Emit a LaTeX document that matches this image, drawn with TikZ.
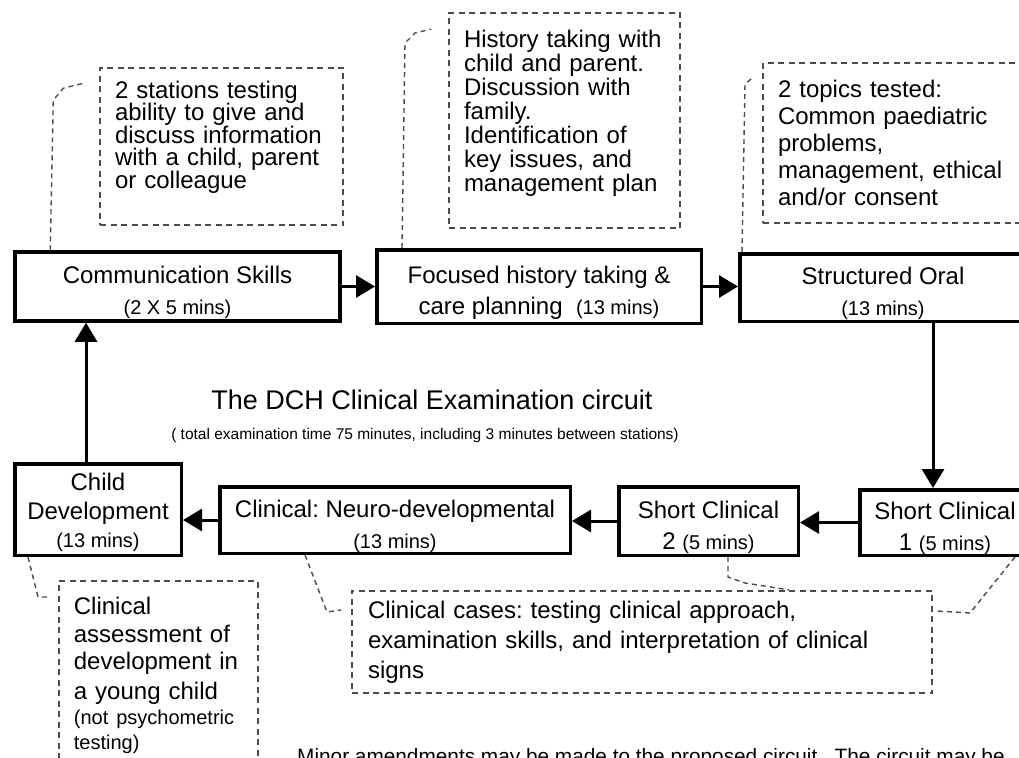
\documentclass[tikz,border=0pt]{standalone}
\usepackage{fontspec}
\setmainfont{Liberation Sans}
\usetikzlibrary{arrows.meta,calc}
\tikzset{
	station/.style={draw, line width=3.5pt, align=center, inner sep=0pt,
		font=\fontsize{24}{31}\selectfont},
	note/.style={draw=black!70, line width=1.8pt, dash pattern=on 6pt off 4.5pt,
		align=left, inner xsep=15pt, inner ysep=10pt},
	callout/.style={draw=black!70, line width=1.4pt, dash pattern=on 5pt off 4pt},
	flow/.style={line width=3pt, -{Triangle[length=19pt,width=22pt]}},
}
\newcommand{\durtxt}[1]{{\fontsize{20}{24}\selectfont #1}}
\newcommand{\lowtxt}{\rule{0pt}{30pt}}
\frenchspacing

\begin{document}
\begin{tikzpicture}[x=1pt, y=-1pt]
\useasboundingbox (0,0) rectangle (1019,757);
\clip (0,0) rectangle (1019,757);
% stations of the circuit
\node[station, minimum width=325pt, minimum height=69pt] (comm) at (177.5,286.5) {\lowtxt Communication Skills\\\durtxt{(2 X 5 mins)}};
\node[station, minimum width=324.5pt, minimum height=73.5pt] (focus) at (539,286.5) {\lowtxt Focused history taking \&\\care planning \ \durtxt{(13 mins)}};
\node[station, minimum width=286.5pt, minimum height=67.5pt] (oral) at (883,287.5) {\lowtxt Structured Oral\\\durtxt{(13 mins)}};
\node[station, minimum width=170.5pt, minimum height=65.5pt] (sc1) at (945,522.5) {\lowtxt Short Clinical\\1 \durtxt{(5 mins)}};
\node[station, minimum width=179.5pt, minimum height=68.5pt] (sc2) at (708.5,521) {\lowtxt Short Clinical\\2 \durtxt{(5 mins)}};
\node[station, minimum width=350.5pt, minimum height=66.5pt] (neuro) at (395,520) {\lowtxt Clinical: Neuro-developmental\\\durtxt{(13 mins)}};
\node[station, minimum width=166.5pt, minimum height=91.5pt, font=\fontsize{24}{28.5}\selectfont] (child) at (98,509.5) {\rule{0pt}{24pt}Child\\Development\\\durtxt{(13 mins)}};
% notes
\node[note, text width=213pt, minimum height=157pt, font=\fontsize{24}{22.5}\selectfont] (a1) at (221.5,146.5) {2 stations testing\\ability to give and\\discuss information\\with a child, parent\\or colleague\rule[-24pt]{0pt}{0pt}};
\node[note, text width=201pt, minimum height=215pt, font=\fontsize{24}{24}\selectfont] (a2) at (564.5,120.5) {History taking with\\child and parent.\\Discussion with\\family.\\Identification of\\key issues, and\\management plan\rule[-20pt]{0pt}{0pt}};
\node[note, text width=247pt, minimum height=160pt, font=\fontsize{24}{27}\selectfont] (a3) at (901.5,143) {2 topics tested:\\Common paediatric\\problems,\\management, ethical\\and/or consent};
\node[note, text width=169pt, inner ysep=16pt, anchor=north west, font=\fontsize{24}{25}\selectfont] (a4) at (58,580) {Clinical\\[3pt]assessment of\\[2pt]development in\\[5pt]a young child\\\durtxt{(not psychometric}\\\durtxt{testing)}\rule[-12pt]{0pt}{0pt}};
\node[note, inner xsep=16pt, text width=548pt, minimum height=100pt, font=\fontsize{24}{30}\selectfont] (a5) at (642,642) {Clinical cases: testing clinical approach,\\examination skills, and interpretation of clinical\\signs};
% circuit arrows
\draw[flow] (comm) -- (focus);
\draw[flow] (focus.east) -- (focus.east -| oral.west);
\draw[flow] ([xshift=50pt]oral.south) -- ([xshift=50pt]oral.south |- sc1.north);
\draw[flow] (sc1.west) -- (sc1.west -| sc2.east);
\draw[flow] (sc2.west) -- (sc2.west -| neuro.east);
\draw[flow] (neuro.west) -- (neuro.west -| child.east);
\draw[flow] ([xshift=-12pt]child.north) -- ([xshift=-12pt]child.north |- comm.south);
% callouts
\draw[callout] ([xshift=37pt]comm.north west) -- ++(3,-150) -- ++(10,-12) -- ([shift={(-15,16)}]a1.north west);
\draw[callout] ([xshift=27pt]focus.north west) -- ++(3,-205) -- ++(10,-10) -- ([shift={(-17,17)}]a2.north west);
\draw[callout] ([xshift=4pt]oral.north west) -- ++(3,-168) -- ([shift={(-10,16)}]a3.north west);
\draw[callout] ([xshift=15pt]child.south west) -- ++(10,40) -- ([shift={(-8,17)}]a4.north west);
\draw[callout] ([xshift=87pt]neuro.south west) -- ++(22,57) -- ([shift={(-10,20)}]a5.north west);
\draw[callout] ([xshift=111pt]sc2.south west) -- ++(0,20) -- ++(17,6) -- ([xshift=438pt]a5.north west);
\draw[callout] ([xshift=157pt]sc1.south west) -- ++(-45,56) -- ([shift={(3,21)}]a5.north east);
% titles
\node[font=\fontsize{27}{30}\selectfont] (title) at (432,400) {The DCH Clinical Examination circuit};
\node[font=\fontsize{15.5}{18}\selectfont, anchor=base] (subtitle) at (425,439) {( total examination time 75 minutes, including 3 minutes between stations)};
\node[font=\fontsize{20.8}{24}\selectfont, anchor=base west, inner sep=0pt] (remark) at (297,763) {Minor amendments may be made to the proposed circuit.\ \ The circuit may be};
\end{tikzpicture}
\end{document}
